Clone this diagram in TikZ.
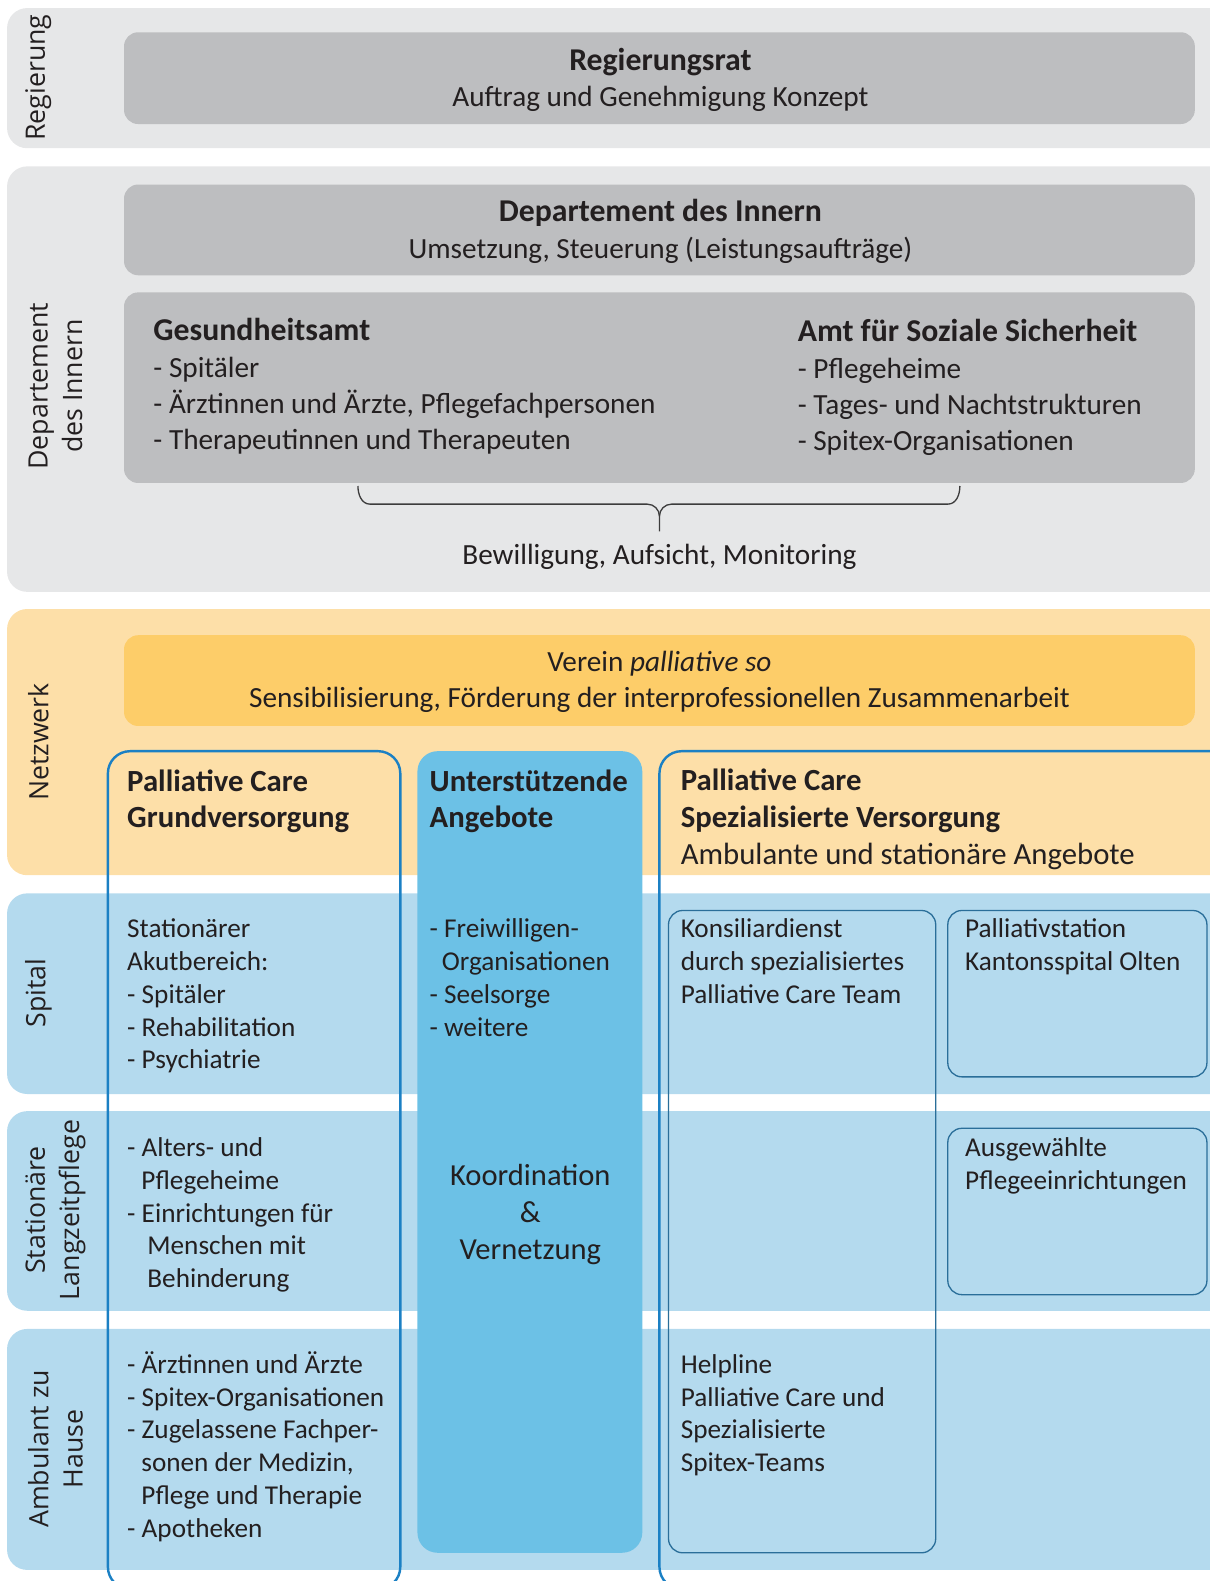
\documentclass[tikz,border=0pt]{standalone}
\usepackage{fontspec}
\setmainfont{Carlito}
\newfontfamily\sidefont{Open Sans}
\definecolor{ink}{HTML}{231F20}
\definecolor{bandgray}{HTML}{E6E7E8}
\definecolor{boxgray}{HTML}{BDBEC0}
\definecolor{bandorange}{HTML}{FDDFA8}
\definecolor{boxgold}{HTML}{FDCD69}
\definecolor{bandblue}{HTML}{B4DAEE}
\definecolor{boxblue}{HTML}{6CC1E6}
\definecolor{lineblue}{HTML}{1B80C4}
\definecolor{thinblue}{HTML}{2A6E99}
\definecolor{bracegray}{HTML}{3C3C3C}
% larger bold heading line
\newcommand{\headline}[1]{{\fontsize{31.5}{36}\selectfont\bfseries #1}}
\begin{document}
% multi-line nodes are anchored at the baseline of their last line
\begin{tikzpicture}[x=1pt,y=-1pt,
  band/.style={rounded corners=20pt},
  pane/.style={rounded corners=14pt},
  bodytxt/.style={font=\fontsize{27}{32.5}\selectfont, text=ink, inner sep=0pt, align=left, anchor=base west},
  toptxt/.style={font=\fontsize{29}{36}\selectfont, text=ink, inner sep=0pt, align=left, anchor=base west},
  coltxt/.style={font=\fontsize{30.5}{36.5}\selectfont, text=ink, inner sep=0pt, align=left, anchor=base west},
  midtxt/.style={font=\fontsize{29}{36}\selectfont, text=ink, inner sep=0pt, align=center, anchor=base},
  sidetxt/.style={font=\sidefont\fontsize{26.5}{34}\selectfont, text=ink, inner sep=0pt, align=center, rotate=90, anchor=center},
  column/.style={draw=lineblue, line width=2.4pt, rounded corners=22pt},
  subpane/.style={draw=thinblue, line width=1.3pt, rounded corners=14pt},
  bracepath/.style={draw=bracegray, line width=1.3pt}
]
\useasboundingbox (0,0) rectangle (1200,1568);
\clip (0,0) rectangle (1200,1568);

% horizontal bands
\fill[bandgray, band] (7,8) rectangle (1240,147);
\fill[bandgray, band] (7,165) rectangle (1240,587);
\fill[bandorange, band] (7,604) rectangle (1240,868);
\fill[bandblue, band] (7,886) rectangle (1240,1085);
\fill[bandblue, band] (7,1102) rectangle (1240,1300);
\fill[bandblue, band] (7,1318) rectangle (1240,1557);

% grey and gold panes
\fill[boxgray, pane] (123,32) rectangle (1185,123);
\fill[boxgray, pane] (123,183) rectangle (1185,273);
\fill[boxgray, pane] (123,290) rectangle (1185,479);
\fill[boxgold, pane] (123,630) rectangle (1185,720);

% columns
\fill[boxblue, rounded corners=20pt] (414,745) rectangle (637,1540);
\draw[column] (107,745) rectangle (397,1576);
\draw[column] (654,745) rectangle (1250,1576);
\draw[subpane] (663,903) rectangle (928,1540);
\draw[subpane] (940,903) rectangle (1197,1068);
\draw[subpane] (940,1119) rectangle (1197,1284);

% brace
\coordinate (brL) at (355,482);
\coordinate (brR) at (952,482);
\coordinate (brM) at (654,512);
\coordinate (brT) at (654,527);
\draw[bracepath] (brL) to[out=-90,in=180] (367,500) -- (642,500) to[out=0,in=90] (brM) -- (brT);
\draw[bracepath] (brR) to[out=-90,in=0] (940,500) -- (666,500) to[out=180,in=90] (brM);

% side labels
\node[sidetxt] (sRegierung) at (38,77) {Regierung};
\node[sidetxt] (sDepartement) at (55,383) {Departement\\des Innern};
\node[sidetxt] (sNetzwerk) at (38,736) {Netzwerk};
\node[sidetxt] (sSpital) at (38,985) {Spital};
\node[sidetxt] (sLangzeit) at (55,1200) {Stationäre\\Langzeitpflege};
\node[sidetxt] (sAmbulant) at (55,1437) {Ambulant zu\\Hause};

% government and department
\node[midtxt] (tRat) at (655,106) {\headline{Regierungsrat}\\Auftrag und Genehmigung Konzept};
\node[midtxt] (tDI) at (655,256) {\headline{Departement des Innern}\\Umsetzung, Steuerung (Leistungsaufträge)};
\node[toptxt] (tGA) at (152,446) {\headline{Gesundheitsamt}\\- Spitäler\\- Ärztinnen und Ärzte, Pflegefachpersonen\\- Therapeutinnen und Therapeuten};
\node[toptxt] (tASS) at (791,447) {\headline{Amt für Soziale Sicherheit}\\- Pflegeheime\\- Tages- und Nachtstrukturen\\- Spitex-Organisationen};
\node[midtxt] (tBew) at (654,560) {Bewilligung, Aufsicht, Monitoring};

% network
\node[midtxt] (tVerein) at (654,702) {Verein \textit{palliative so}\\Sensibilisierung, Förderung der interprofessionellen Zusammenarbeit};

% column headings
\node[coltxt] (hGrund) at (126,821) {\textbf{Palliative Care}\\\textbf{Grundversorgung}};
\node[coltxt] (hUnter) at (426,821) {\textbf{Unterstützende}\\\textbf{Angebote}};
\node[coltxt] (hSpez) at (675,857) {\textbf{Palliative Care}\\\textbf{Spezialisierte Versorgung}\\Ambulante und stationäre Angebote};

% hospital row
\node[bodytxt] (gSpital) at (126,1060) {Stationärer\\Akutbereich:\\- Spitäler\\- Rehabilitation\\- Psychiatrie};
\node[bodytxt] (uSpital) at (426,1027.5) {- Freiwilligen-\\\hspace*{12pt}Organisationen\\- Seelsorge\\- weitere};
\node[bodytxt] (kSpital) at (675,995) {Konsiliardienst\\durch spezialisiertes\\Palliative Care Team};
\node[bodytxt] (pSpital) at (957,962.5) {Palliativstation\\Kantonsspital Olten};

% long-term care row
\node[bodytxt] (gLang) at (126,1277) {- Alters- und\\\hspace*{14pt}Pflegeheime\\- Einrichtungen für\\\hspace*{20pt}Menschen mit\\\hspace*{20pt}Behinderung};
\node[font=\fontsize{30.3}{36.5}\selectfont, text=ink, inner sep=0pt, align=center, anchor=base] (uKoord) at (526,1249) {Koordination\\\&\\Vernetzung};
\node[bodytxt] (pLang) at (957,1179.5) {Ausgewählte\\Pflegeeinrichtungen};

% home care row
\node[bodytxt] (gHome) at (126,1524.5) {- Ärztinnen und Ärzte\\- Spitex-Organisationen\\- Zugelassene Fachper-\\\hspace*{14pt}sonen der Medizin,\\\hspace*{14pt}Pflege und Therapie\\- Apotheken};
\node[bodytxt] (kHome) at (675,1459.5) {Helpline\\Palliative Care und\\Spezialisierte\\Spitex-Teams};
\end{tikzpicture}
\end{document}
